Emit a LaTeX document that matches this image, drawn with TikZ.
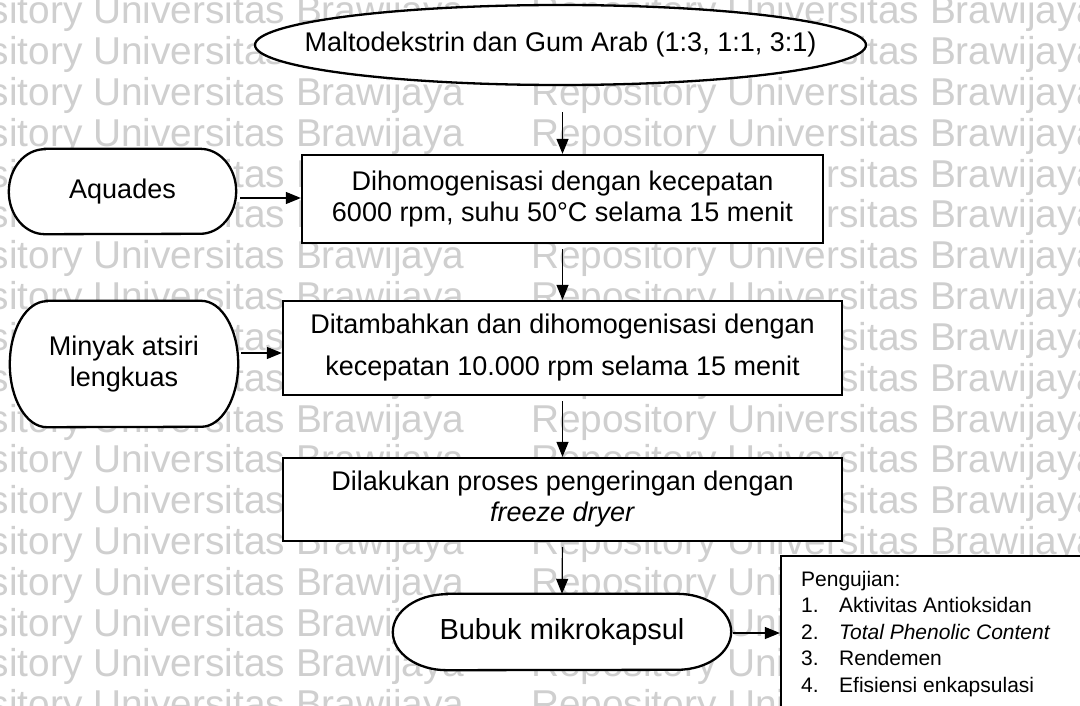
\documentclass[tikz,border=0pt]{standalone}
\usepackage{fontspec}
\setmainfont{Liberation Sans}
\usetikzlibrary{arrows.meta}

\pgfdeclarelayer{watermark}
\pgfdeclarelayer{background}
\pgfsetlayers{watermark,background,main}

\tikzset{
  outline/.style={draw=black, line width=2.3pt, fill=white},
  procbox/.style={outline, rectangle, align=center, inner sep=0pt,
    font=\fontsize{27}{31}\selectfont},
  termnode/.style={rectangle, inner sep=0pt, align=center,
    font=\fontsize{27}{31}\selectfont},
  flow/.style={line width=1.2pt, -{Triangle[length=15pt,width=12pt]}},
  wmtext/.style={text=black!19, font=\fontsize{38.8}{38.8}\selectfont,
    anchor=base west, inner sep=0pt},
}

% terminator outline (elliptic ends) drawn behind a named node
\newcommand\termoutline[3]{%
  \begin{pgfonlayer}{background}
    \draw[outline] ([xshift=#2]#1.north west) -- ([xshift=-#2]#1.north east)
      arc[start angle=90,end angle=-90,x radius=#2,y radius=#3]
      -- ([xshift=#2]#1.south west)
      arc[start angle=270,end angle=90,x radius=#2,y radius=#3] -- cycle;
  \end{pgfonlayer}}

\begin{document}
\begin{tikzpicture}[x=1pt,y=1pt]
\useasboundingbox (0,0) rectangle (1080,-706);

% repository watermark
\begin{pgfonlayer}{watermark}
  \fill[white] (0,0) rectangle (1080,-706);
  \foreach \k in {0,...,17}{
    \foreach \j in {0,1,2}{
      \node[wmtext] (wm-\k-\j) at ({-103+634*\j},{-(24+40.8*\k)})
        {Repository Universitas Brawijaya};
    }
  }
\end{pgfonlayer}

% raw materials
\node[termnode, minimum width=611pt, minimum height=80pt] (malto) at (560.5,-45)
  {Maltodekstrin dan Gum Arab (1:3, 1:1, 3:1)};
\begin{pgfonlayer}{background}
  \draw[outline] (malto.center) ellipse[x radius=305.5pt, y radius=40pt];
\end{pgfonlayer}

% process steps
\node[procbox, minimum width=521pt, minimum height=88pt] (homog1) at (562.5,-199)
  {\raisebox{3pt}{Dihomogenisasi dengan kecepatan}\\\raisebox{3pt}{6000 rpm, suhu 50°C selama 15 menit}};
\node[procbox, minimum width=559pt, minimum height=94pt,
      font=\fontsize{27}{42}\selectfont] (homog2) at (562.5,-348)
  {Ditambahkan dan dihomogenisasi dengan\\kecepatan 10.000 rpm selama 15 menit};
\node[procbox, minimum width=559pt, minimum height=83pt] (dry) at (562.5,-499.5)
  {Dilakukan proses pengeringan dengan\\\textit{freeze dryer}};

% side inputs and product
\node[termnode, minimum width=227pt, minimum height=85pt] (aqua) at (122.5,-191.5)
  {\raisebox{-2pt}{Aquades}};
\termoutline{aqua}{36pt}{42.5pt}
\node[termnode, minimum width=228pt, minimum height=126pt] (oil) at (124,-364)
  {\raisebox{5pt}{Minyak atsiri}\\\raisebox{5pt}{lengkuas}};
\termoutline{oil}{37pt}{63pt}
\node[termnode, minimum width=338pt, minimum height=76pt,
      font=\fontsize{29}{34}\selectfont] (powder) at (562,-632) {Bubuk mikrokapsul};
\termoutline{powder}{54pt}{38pt}

% analyses
\node[outline, rectangle, minimum width=314pt, minimum height=164pt] (tests) at (938,-638) {};
\node[anchor=north west, inner sep=0pt, align=left,
      font=\fontsize{21}{26.5}\selectfont] (testlist) at (801,-571)
  {Pengujian:\\
   \makebox[38pt][l]{1.}Aktivitas Antioksidan\\
   \makebox[38pt][l]{2.}\textit{Total Phenolic Content}\\
   \makebox[38pt][l]{3.}Rendemen\\
   \makebox[38pt][l]{4.}Efisiensi enkapsulasi};

% connectors
\draw[flow, shorten <=27pt] (homog1.north |- malto.south) -- (homog1.north);
\draw[flow, shorten <=5pt] (homog1.south) -- (homog2.north);
\draw[flow, shorten <=5pt] (homog2.south) -- (dry.north);
\draw[flow, shorten <=5pt] (dry.south) -- (powder.north);
\draw[flow, shorten <=4pt] ([yshift=-6.5pt]aqua.east) -- ([yshift=-6.5pt]aqua.east -| homog1.west);
\draw[flow, shorten <=3pt] ([yshift=11pt]oil.east) -- ([yshift=11pt]oil.east -| homog2.west);
\draw[flow, shorten <=2pt] ([yshift=-1pt]powder.east) -- ([yshift=-1pt]powder.east -| tests.west);
\end{tikzpicture}
\end{document}
